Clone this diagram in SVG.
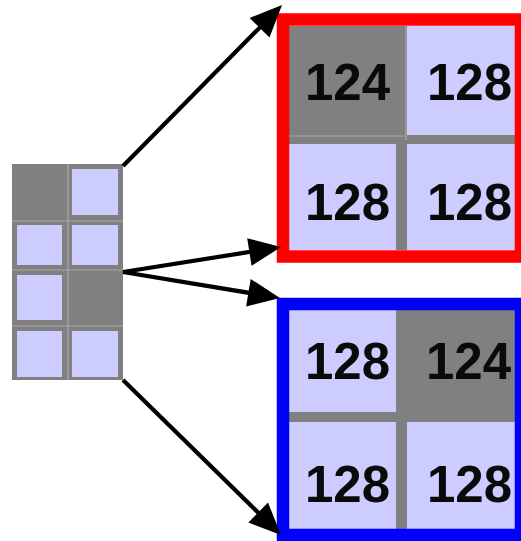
<svg xmlns="http://www.w3.org/2000/svg" width="521" height="541" viewBox="0 0 521 541">
  <style>
    .bg { fill: #ffffff; }
    .grey { fill: #808080; }
    .cell { fill: #ccccff; }
    .seam { stroke: #a8a8a8; stroke-width: 1.2; fill: none; }
    .val { font-family: "Liberation Sans", Arial, sans-serif; font-weight: bold; font-size: 51px; fill: #0a0a0a; }
    .link { stroke: #000000; stroke-width: 4.2; fill: none; marker-end: url(#head); }
  </style>
  <defs>
    <marker id="head" markerUnits="userSpaceOnUse" markerWidth="32" markerHeight="28" refX="23" refY="14" orient="auto" overflow="visible">
      <path d="M0,0 L32,14 L0,28 z" fill="#000000"/>
    </marker>
  </defs>

  <rect class="bg" x="0" y="0" width="521" height="541"/>

  <!-- source block: 2 x 4 grid -->
  <g id="source">
    <rect class="grey" x="12" y="164" width="111" height="216"/>
    <path class="seam" d="M68,164 V380 M12,221 H123 M12,270 H123 M12,326 H123"/>
    <rect class="cell" x="72" y="169" width="46" height="46"/>
    <rect class="cell" x="17" y="225" width="45" height="40"/>
    <rect class="cell" x="72" y="225" width="46" height="40"/>
    <rect class="cell" x="17" y="275" width="45" height="45"/>
    <rect class="cell" x="17" y="331" width="45" height="46"/>
    <rect class="cell" x="72" y="331" width="46" height="46"/>
  </g>

  <!-- upper 2 x 2 block, red frame -->
  <g id="red-block">
    <rect class="grey" x="289" y="26" width="232" height="224"/>
    <path class="seam" d="M406,26 V140 M289,136 H405"/>
    <rect class="cell" x="407" y="26" width="114" height="109"/>
    <rect class="cell" x="289" y="144" width="107" height="106"/>
    <rect class="cell" x="407" y="144" width="114" height="106"/>
    <rect x="283" y="19.5" width="238" height="237" fill="none" stroke="#ff0000" stroke-width="12.5"/>
    <text class="val" x="305" y="100">124</text>
    <text class="val" x="427" y="100">128</text>
    <text class="val" x="305" y="220">128</text>
    <text class="val" x="427" y="220">128</text>
  </g>

  <!-- lower 2 x 2 block, blue frame -->
  <g id="blue-block">
    <rect class="grey" x="289" y="310" width="232" height="219"/>
    <rect class="cell" x="289" y="310" width="107" height="102"/>
    <rect class="cell" x="289" y="422" width="107" height="107"/>
    <rect class="cell" x="407" y="422" width="114" height="107"/>
    <rect x="283" y="304" width="238" height="231" fill="none" stroke="#0000ff" stroke-width="12.5"/>
    <text class="val" x="305" y="379">128</text>
    <text class="val" x="426" y="379">124</text>
    <text class="val" x="305" y="502">128</text>
    <text class="val" x="427" y="502">128</text>
  </g>

  <!-- connectors -->
  <g id="connectors">
    <line class="link" x1="123" y1="166" x2="275.7" y2="11.4"/>
    <line class="link" x1="123" y1="272" x2="272.1" y2="248.4"/>
    <line class="link" x1="123" y1="272" x2="271.1" y2="296.5"/>
    <line class="link" x1="123" y1="380" x2="274.6" y2="528.7"/>
  </g>
</svg>
